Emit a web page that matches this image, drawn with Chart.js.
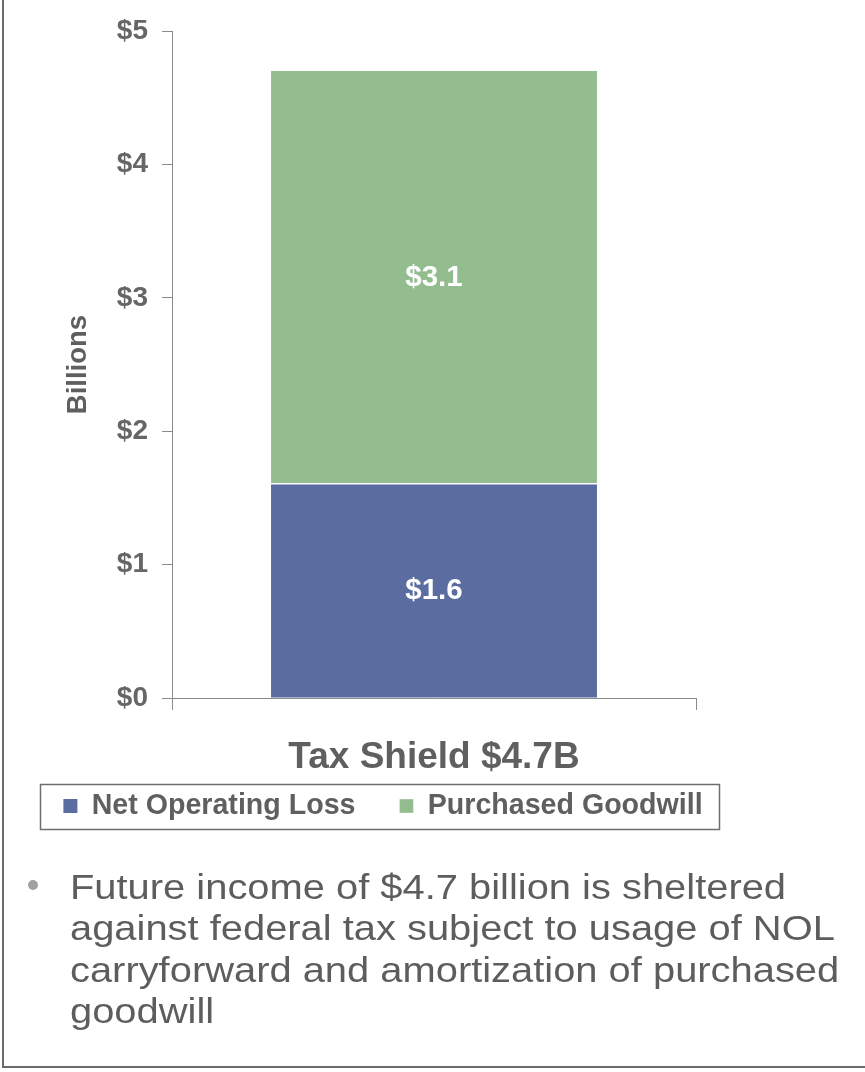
<!DOCTYPE html>
<html>
<head>
<meta charset="utf-8">
<script src="https://cdn.jsdelivr.net/npm/chart.js@4/dist/chart.umd.min.js"></script>
<style>
  html, body { margin:0; padding:0; background:#fff; }
  body { width:865px; height:1072px; position:relative; overflow:hidden; font-family:"Liberation Sans", Arial, sans-serif; }
  #frame { position:absolute; left:2px; top:-4px; width:900px; height:1070px; border-left:2px solid #6b6b6b; border-bottom:2px solid #6b6b6b; }
  #wrap { position:absolute; left:0; top:0; width:766px; height:889px; }
  #bullet { position:absolute; left:70px; top:867px; font-size:34.5px; line-height:41.3px; color:#5d5d5d; white-space:nowrap; transform:scaleX(1.156); transform-origin:0 0; }
  #dot { position:absolute; left:28px; top:880px; width:10px; height:10px; border-radius:50%; background:#a0a0a0; }
</style>
</head>
<body>
<div id="frame"></div>
<div id="wrap"><canvas id="c" width="766" height="889"></canvas></div>
<div id="dot"></div>
<div id="bullet">Future income of $4.7 billion is sheltered<br>against federal tax subject to usage of NOL<br>carryforward and amortization of purchased<br>goodwill</div>
<script>
const categories = ["Tax Shield $4.7B"];
const seriesNames = ["Net Operating Loss", "Purchased Goodwill"];
const netOperatingLoss = [1.6];
const purchasedGoodwill = [3.1];
const yTickValues = [0, 1, 2, 3, 4, 5];
const yAxisTitle = "Billions";

const FONT = '"Liberation Sans", Arial, sans-serif';

const valueLabels = {
  id: 'valueLabels',
  afterDatasetsDraw(chart) {
    const ctx = chart.ctx;
    ctx.save();
    ctx.fillStyle = '#ffffff';
    ctx.font = 'bold 29.5px ' + FONT;
    ctx.textAlign = 'center';
    ctx.textBaseline = 'middle';
    chart.data.datasets.forEach((ds, i) => {
      const meta = chart.getDatasetMeta(i);
      meta.data.forEach((bar, j) => {
        const p = bar.getProps(['x', 'y', 'base'], true);
        ctx.fillText('$' + ds.data[j].toFixed(1), p.x, (p.y + p.base) / 2);
      });
    });
    ctx.restore();
  }
};

const legendShift = {
  id: 'legendShift',
  afterLayout(chart) {
    const lg = chart.legend;
    if (!lg) return;
    const pad = lg.options.labels.padding;
    const itemH = lg.options.labels.font.size;
    const targetTop = 806 - pad - itemH / 2;
    const d = lg.top - targetTop;
    lg.top -= d;
    lg.bottom -= d;
  }
};

const legendBox = {
  id: 'legendBox',
  afterDraw(chart) {
    const hb = chart.legend && chart.legend.legendHitBoxes;
    if (!hb || !hb.length) return;
    const first = hb[0], last = hb[hb.length - 1];
    const x0 = first.left - 23, x1 = last.left + last.width + 17;
    const yc = first.top + first.height / 2;
    const ctx = chart.ctx;
    ctx.save();
    ctx.strokeStyle = '#6e6e6e';
    ctx.lineWidth = 1.5;
    ctx.strokeRect(Math.round(x0) + 0.5, Math.round(yc - 22.5) + 0.5, Math.round(x1 - x0), 45);
    ctx.restore();
  }
};

new Chart(document.getElementById('c'), {
  type: 'bar',
  data: {
    labels: categories,
    datasets: [
      { label: seriesNames[0], data: netOperatingLoss, backgroundColor: '#5b6ca1',
        borderColor: '#ffffff', borderWidth: 0, barPercentage: 0.622, categoryPercentage: 1.0 },
      { label: seriesNames[1], data: purchasedGoodwill, backgroundColor: '#93bc8f',
        borderColor: '#ffffff', borderWidth: {bottom: 1.5, top: 0, left: 0, right: 0}, borderSkipped: false,
        barPercentage: 0.622, categoryPercentage: 1.0 }
    ]
  },
  options: {
    responsive: false,
    animation: false,
    layout: { padding: { top: 31, right: 0, bottom: 0, left: 0 } },
    plugins: {
      tooltip: { enabled: false },
      title: { display: false },
      legend: {
        position: 'bottom',
        align: 'center',
        labels: {
          boxWidth: 14, boxHeight: 14, padding: 44,
          color: '#5f5f5f',
          font: { family: FONT, size: 28.6, weight: 'bold' }
        }
      }
    },
    scales: {
      x: {
        stacked: true,
        offset: true,
        grid: { display: true, offset: true, drawOnChartArea: false, drawTicks: true, tickLength: 12, color: '#8a8a8a' },
        border: { display: true, color: '#8a8a8a', width: 1 },
        ticks: { color: '#5f5f5f', padding: 26, font: { family: FONT, size: 37, weight: 'bold' } }
      },
      y: {
        stacked: true,
        min: 0, max: 5,
        afterBuildTicks(scale) { scale.ticks = yTickValues.map(v => ({ value: v })); },
        grid: { display: true, drawOnChartArea: false, drawTicks: true, tickLength: 10, color: '#8a8a8a' },
        border: { display: true, color: '#8a8a8a', width: 1 },
        ticks: { color: '#666666', padding: 14, font: { family: FONT, size: 28, weight: 'bold' },
                 callback: v => '$' + v },
        title: { display: true, text: yAxisTitle, color: '#5f5f5f', padding: { top: 62, bottom: 0 },
                 font: { family: FONT, size: 27.5, weight: 'bold' } },
        afterFit(scale) { scale.width = 172; }
      },
      yRightSpacer: {
        type: 'linear',
        position: 'right',
        min: 0, max: 1,
        grid: { display: false, drawTicks: false },
        border: { display: false },
        ticks: { display: false },
        afterFit(scale) { scale.width = 70; }
      }
    }
  },
  plugins: [legendShift, valueLabels, legendBox]
});
</script>
</body>
</html>
